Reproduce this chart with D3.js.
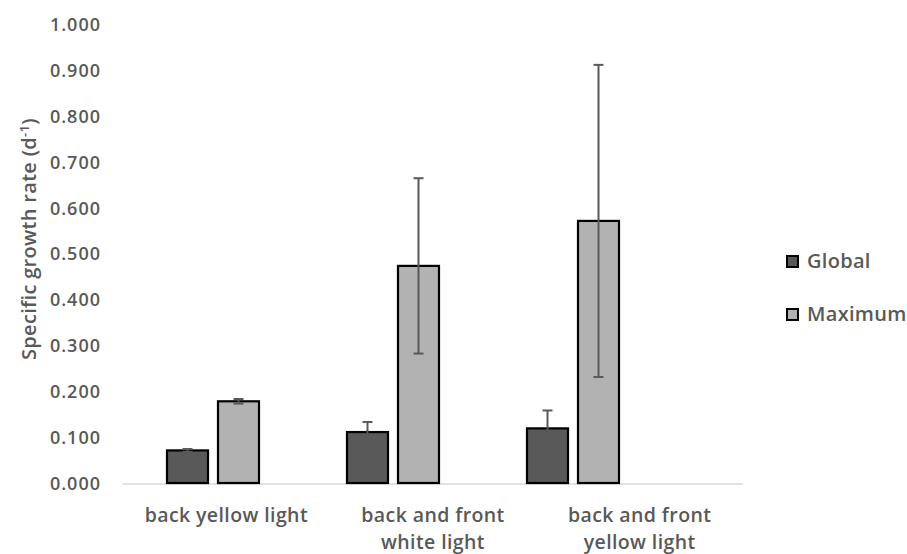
<!DOCTYPE html>
<html>
<head>
<meta charset="utf-8">
<script src="https://cdn.jsdelivr.net/npm/d3@7"></script>
<style>
  html, body { margin: 0; padding: 0; background: #fff; }
  svg { display: block; font-family: "Open Sans", "Liberation Sans", sans-serif; }
  .tick text { fill: #595959; font-weight: 600; font-size: 18px; letter-spacing: 1px; font-family: "Open Sans", sans-serif; }
  .cat { fill: #595959; font-weight: 600; font-size: 19.5px; letter-spacing: 0.4px; }
  .ytitle { fill: #595959; font-weight: 600; font-size: 20px; letter-spacing: 0.3px; }
  .leg { fill: #595959; font-weight: 600; font-size: 20px; letter-spacing: 0.3px; }
</style>
</head>
<body>
<svg id="chart" width="907" height="554"></svg>
<script>
// chart data
var categories = [["back yellow light"], ["back and front", "white light"], ["back and front", "yellow light"]];
var series = ["Global", "Maximum"];
var globalVals = [0.071, 0.111, 0.119];
var globalErr = [0.003, 0.022, 0.039];
var maxVals = [0.178, 0.473, 0.571];
var maxErr = [0.005, 0.191, 0.340];
var yTicks = [0, 0.1, 0.2, 0.3, 0.4, 0.5, 0.6, 0.7, 0.8, 0.9, 1.0];
var colors = { Global: "#595959", Maximum: "#b2b2b2" };

var svg = d3.select("#chart");
var keys = categories.map(function (c, i) { return "c" + i; });

var y = d3.scaleLinear().domain([0, 1]).range([483, 24]);
// category labels sit in the full-width bands, bars in a tighter band set
var xLab = d3.scaleBand().domain(keys).range([123, 743]);
var xBar = d3.scaleBand().domain(keys).range([123, 663]);
var x1 = d3.scaleBand().domain(series).range([44, 136]).paddingInner(0.196);

// y axis (labels only)
var ya = svg.append("g").attr("transform", "translate(109,0)")
  .call(d3.axisLeft(y).tickValues(yTicks).tickFormat(d3.format(".3f")).tickSize(0).tickPadding(8));
ya.select(".domain").remove();
ya.selectAll(".tick text").attr("dy", "0.36em");

// baseline
svg.append("line").attr("x1", 123).attr("x2", 743).attr("y1", y(0) + 1).attr("y2", y(0) + 1)
  .attr("stroke", "#d9d9d9").attr("stroke-width", 1.5);

var rows = keys.map(function (k, i) {
  return [
    { key: k, s: "Global", v: globalVals[i], e: globalErr[i] },
    { key: k, s: "Maximum", v: maxVals[i], e: maxErr[i] }
  ];
});
var flat = [].concat.apply([], rows);

svg.selectAll("rect.bar").data(flat).enter().append("rect").attr("class", "bar")
  .attr("x", function (d) { return xBar(d.key) + x1(d.s); })
  .attr("width", x1.bandwidth())
  .attr("y", function (d) { return y(d.v); })
  .attr("height", function (d) { return y(0) - y(d.v); })
  .attr("fill", function (d) { return colors[d.s]; })
  .attr("stroke", "#000").attr("stroke-width", 2.2);

// error bars
var eb = svg.selectAll("g.err").data(flat).enter().append("g").attr("class", "err")
  .attr("transform", function (d) { return "translate(" + (xBar(d.key) + x1(d.s) + x1.bandwidth() / 2) + ",0)"; });
eb.append("line").attr("x1", 0).attr("x2", 0)
  .attr("y1", function (d) { return y(d.v + d.e); }).attr("y2", function (d) { return y(d.v - d.e); })
  .attr("stroke", "#595959").attr("stroke-width", 2);
eb.append("line").attr("x1", -5).attr("x2", 5)
  .attr("y1", function (d) { return y(d.v + d.e); }).attr("y2", function (d) { return y(d.v + d.e); })
  .attr("stroke", "#595959").attr("stroke-width", 2);
eb.append("line").attr("x1", -5).attr("x2", 5)
  .attr("y1", function (d) { return y(d.v - d.e); }).attr("y2", function (d) { return y(d.v - d.e); })
  .attr("stroke", "#595959").attr("stroke-width", 2);

// category labels
var cl = svg.selectAll("text.cat").data(categories).enter().append("text").attr("class", "cat")
  .attr("text-anchor", "middle")
  .attr("x", function (d, i) { return xLab.bandwidth() / 2 + xLab(keys[i]); })
  .attr("y", 522);
cl.selectAll("tspan").data(function (d) { return d; }).enter().append("tspan")
  .attr("x", function () { var p = this.parentNode; return p.getAttribute("x"); })
  .attr("dy", function (d, i) { return i === 0 ? 0 : 27; })
  .text(function (d) { return d; });

// y title
var yt = svg.append("text").attr("class", "ytitle").attr("text-anchor", "middle")
  .attr("transform", "translate(36,239) rotate(-90)");
yt.append("tspan").text("Specific growth rate (d");
yt.append("tspan").attr("dy", -7).attr("font-size", 13).text("-1");
yt.append("tspan").attr("dy", 7).text(")");

// legend
var lg = svg.selectAll("g.leg").data(series).enter().append("g")
  .attr("transform", function (d, i) { return "translate(787," + (256 + i * 53) + ")"; });
lg.append("rect").attr("width", 11).attr("height", 11)
  .attr("fill", function (d) { return colors[d]; }).attr("stroke", "#000").attr("stroke-width", 2);
lg.append("text").attr("class", "leg").attr("x", 20).attr("y", 12).text(function (d) { return d; });
</script>
</body>
</html>
